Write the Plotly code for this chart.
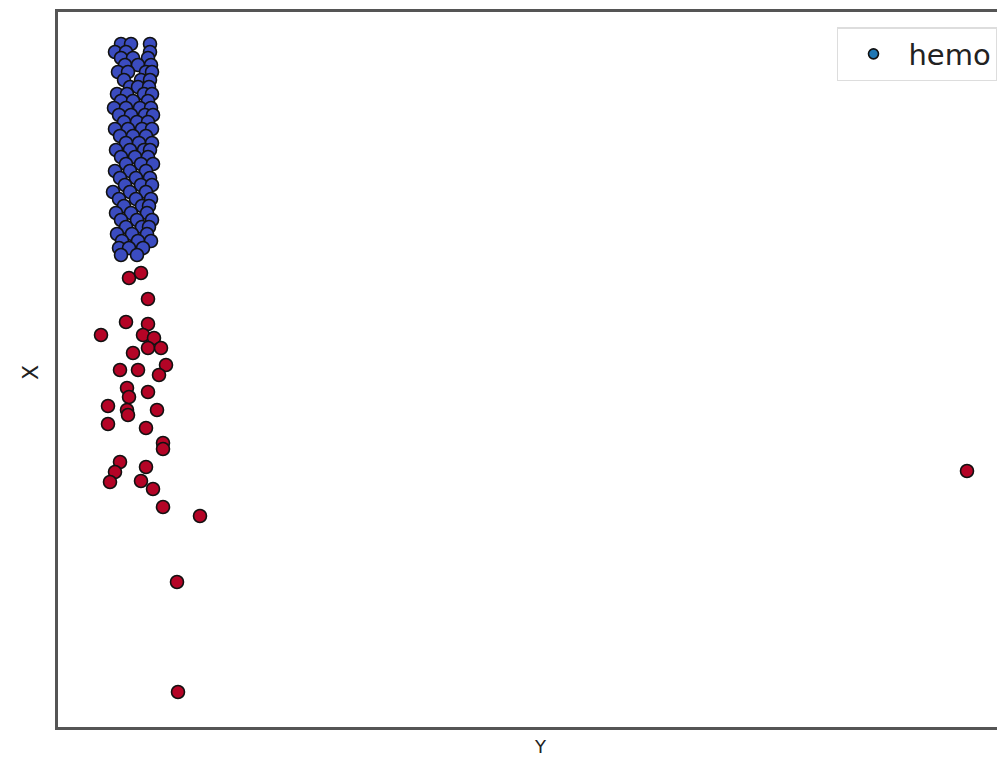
import plotly.graph_objects as go

# Blue (high hemo) points
blue_x = [6.3, 7.3, 9.2, 5.7, 6.8, 9.2, 6.3, 7.5, 9.0, 6.7, 8.0, 9.3,
          6.0, 7.0, 8.8, 9.4, 6.6, 8.3, 9.2, 7.2, 8.0, 9.1, 5.9, 6.9, 8.6, 9.4,
          6.3, 7.5, 9.0, 5.6, 6.8, 8.2, 9.3, 6.1, 7.3, 8.7, 9.5, 6.6, 7.9, 9.0,
          5.7, 7.0, 8.4, 9.4, 6.2, 7.5, 8.8, 6.8, 8.1, 9.4, 5.8, 7.2, 8.6, 9.2,
          6.3, 7.7, 9.0, 6.8, 8.3, 9.5, 5.7, 7.2, 8.8, 6.2, 7.8, 9.2, 6.7, 8.3, 9.4,
          5.5, 7.2, 8.8, 6.1, 7.8, 9.3, 6.6, 8.4, 9.1, 5.8, 7.3, 8.9, 6.3, 7.9, 9.4,
          6.8, 8.4, 9.1, 5.9, 7.4, 8.9, 6.4, 8.0, 9.3, 6.1, 7.1, 8.5, 6.3, 7.9]
blue_y = [68.3, 68.3, 68.3, 67.5, 67.5, 67.5, 66.9, 66.9, 66.9, 66.2, 66.2, 66.2,
          65.5, 65.5, 65.5, 65.5, 64.7, 64.7, 64.7, 64.0, 64.0, 64.0, 63.3, 63.3, 63.3, 63.3,
          62.6, 62.6, 62.6, 61.9, 61.9, 61.9, 61.9, 61.2, 61.2, 61.2, 61.2, 60.5, 60.5, 60.5,
          59.8, 59.8, 59.8, 59.8, 59.1, 59.1, 59.1, 58.4, 58.4, 58.4, 57.7, 57.7, 57.7, 57.7,
          57.0, 57.0, 57.0, 56.3, 56.3, 56.3, 55.6, 55.6, 55.6, 54.9, 54.9, 54.9, 54.2, 54.2, 54.2,
          53.5, 53.5, 53.5, 52.8, 52.8, 52.8, 52.1, 52.1, 52.1, 51.4, 51.4, 51.4, 50.7, 50.7, 50.7,
          50.0, 50.0, 50.0, 49.3, 49.3, 49.3, 48.6, 48.6, 48.6, 47.9, 47.9, 47.9, 47.2, 47.2]

# Red (low hemo) points
red_x = [7.1, 8.3, 9.0, 6.8, 4.3, 9.0, 8.5, 9.6, 9.0, 10.3, 7.5, 10.8, 6.2, 8.0,
         10.1, 6.9, 7.1, 9.0, 5.0, 6.9, 7.0, 9.9, 5.0, 8.8, 10.5, 10.5, 6.2, 5.7,
         5.2, 8.8, 8.3, 9.5, 10.5, 14.2, 11.9, 12.0, 90.9]
red_y = [44.9, 45.4, 42.8, 40.5, 39.2, 40.3, 39.2, 38.9, 37.9, 37.9, 37.4, 36.2, 35.7, 35.7,
         35.2, 33.9, 33.0, 33.5, 32.1, 31.7, 31.2, 31.7, 30.3, 29.9, 28.4, 27.8, 26.5, 25.5,
         24.5, 26.0, 24.6, 23.8, 22.0, 21.1, 14.5, 3.5, 25.6]

legend_name = "hemo"
x_label = "Y"
y_label = "X"

fig = go.Figure()
marker_line = dict(color="#111111", width=1.6)
fig.add_trace(go.Scatter(x=blue_x, y=blue_y, mode="markers", showlegend=False,
                         marker=dict(size=13, color="#3b4cc0", line=marker_line)))
fig.add_trace(go.Scatter(x=red_x, y=red_y, mode="markers", showlegend=False,
                         marker=dict(size=13, color="#b40426", line=marker_line)))
fig.add_trace(go.Scatter(x=[None], y=[None], mode="markers", name=legend_name,
                         marker=dict(size=10, color="#1f77b4", line=marker_line)))

fig.update_layout(
    width=997, height=752,
    margin=dict(l=50, r=0, t=4, b=33),
    paper_bgcolor="white", plot_bgcolor="white",
    font=dict(family="DejaVu Sans", color="#222222"),
    showlegend=True,
    legend=dict(x=0.9926, y=0.979, xanchor="right", yanchor="top",
                bordercolor="#dddddd", borderwidth=1.5, bgcolor="white",
                font=dict(size=29, color="#222222"), itemwidth=60, entrywidth=112),
    xaxis=dict(range=[0, 94.7], showticklabels=False, ticks="", showgrid=False,
               zeroline=False, showline=True, mirror=True, linecolor="#555555", linewidth=2.5),
    yaxis=dict(range=[0, 71.5], showticklabels=False, ticks="", showgrid=False,
               zeroline=False, showline=True, mirror=False, linecolor="#555555", linewidth=2.5),
    annotations=[
        dict(text=x_label, xref="paper", yref="paper", x=0.509, y=0, yanchor="top",
             xanchor="center", yshift=-7, showarrow=False, font=dict(size=18, color="#222222")),
        dict(text=y_label, xref="paper", yref="paper", x=0, y=0.495, xanchor="center",
             yanchor="middle", xshift=-28, textangle=-90, showarrow=False,
             font=dict(size=22, color="#222222")),
    ],
)

fig.write_html("out.html")
